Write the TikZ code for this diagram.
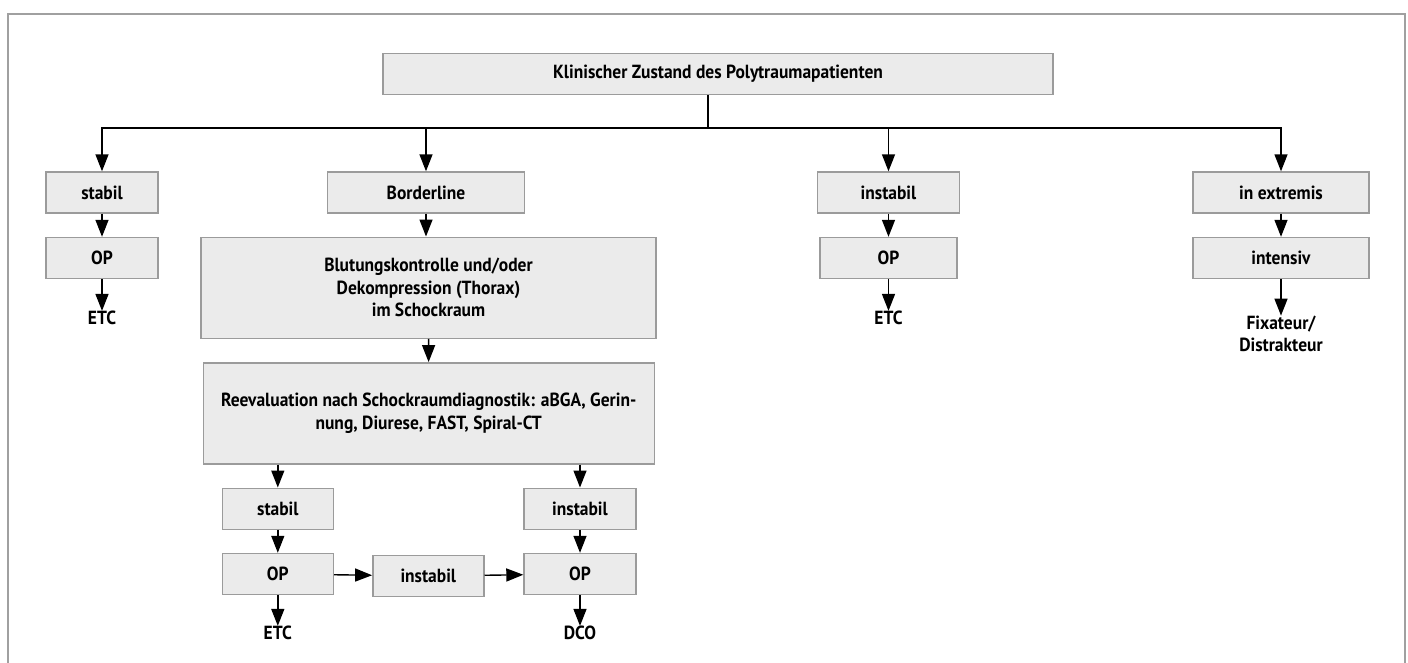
\documentclass[tikz,border=0pt]{standalone}
\usepackage{fontspec}
\setmainfont{PT Sans}[FakeStretch=0.92]
\usepackage{tikz}
\usetikzlibrary{arrows.meta, positioning, calc}
\definecolor{boxfill}{HTML}{EBEBEB}
\definecolor{boxline}{HTML}{9B9B9B}
\definecolor{framegray}{HTML}{A0A0A0}
\tikzset{
  box/.style={draw=boxline, fill=boxfill, line width=1.4pt, inner sep=0pt,
              align=center, minimum height=41pt},
  lbl/.style={align=center, inner sep=0pt},
  link/.style={line width=1.4pt, ->}
}
\begin{document}
\begin{tikzpicture}[>={Triangle[length=17pt, width=13pt]}, x=1pt, y=-1pt,
                    font=\fontsize{19}{22.5}\selectfont\bfseries]
  \useasboundingbox (0,0) rectangle (1408,662);
  \draw[framegray, line width=2pt] (8,670) -- (8,14) -- (1405,14) -- (1405,670);

  % top
  \node[box, minimum width=670pt] (zustand) at (718,74) {Klinischer Zustand des Polytraumapatienten};
  \coordinate (split) at (708,128);

  % first level
  \node[box, minimum width=112pt] (stabil) at (102,192.5) {stabil};
  \node[box, minimum width=197pt] (border) at (426,192.5) {Borderline};
  \node[box, minimum width=142pt] (instabil) at (888.5,192.5) {instabil};
  \node[box, minimum width=176pt] (extrem) at (1281,192.5) {in extremis};

  % stabil
  \node[box, minimum width=112pt] (opA) at (102,258) {OP};
  \node[lbl] (etcA) at (102,318) {ETC};

  % instabil
  \node[box, minimum width=137pt] (opE) at (888.5,258) {OP};
  \node[lbl] (etcE) at (888.5,318) {ETC};

  % in extremis
  \node[box, minimum width=176pt] (intensiv) at (1281,258) {intensiv};
  \node[lbl] (fix) at (1281,334) {Fixateur/\\Distrakteur};

  % borderline
  \node[box, minimum width=455pt, minimum height=101pt] (blutung) at (428.5,287.7)
    {Blutungskontrolle und/oder\\Dekompression (Thorax)\\im Schockraum};
  \node[box, minimum width=451pt, minimum height=101pt] (reeval) at (428.7,413.3)
    {Reevaluation nach Schockraumdiagnostik: aBGA, Gerin-\\nung, Diurese, FAST, Spiral-CT};
  \node[box, minimum width=111pt] (stabilB) at (277.8,508.7) {stabil};
  \node[box, minimum width=112pt] (instabilB) at (580,508.7) {instabil};
  \node[box, minimum width=111pt] (opB) at (277.8,574) {OP};
  \node[box, minimum width=111pt] (instabilC) at (428.3,576) {instabil};
  \node[box, minimum width=112pt] (opC) at (580,574) {OP};
  \node[lbl] (etcB) at (277.8,633) {ETC};
  \node[lbl] (dco) at (580,633) {DCO};

  % connectors
  \draw[line width=1.4pt] (zustand.south -| split) -- (split);
  \foreach \n in {stabil, border, instabil, extrem}
    \draw[link] (split) -| (\n);
  \draw[link] (stabil) -- (opA);
  \draw[link] (opA) -- (etcA.north);
  \draw[link] (instabil) -- (opE);
  \draw[link] (opE) -- (etcE.north);
  \draw[link] (extrem) -- (intensiv);
  \draw[link] (intensiv) -- (fix.north);
  \draw[link] (border) -- (border |- blutung.north);
  \draw[link] (blutung) -- (reeval);
  \draw[link] (reeval.south -| stabilB) -- (stabilB);
  \draw[link] (reeval.south -| instabilB) -- (instabilB);
  \draw[link] (stabilB) -- (opB);
  \draw[link] (instabilB) -- (opC);
  \draw[link] (opB) -- (instabilC);
  \draw[link] (instabilC) -- (opC);
  \draw[link] (opB) -- (etcB.north);
  \draw[link] (opC) -- (dco.north);
\end{tikzpicture}
\end{document}
